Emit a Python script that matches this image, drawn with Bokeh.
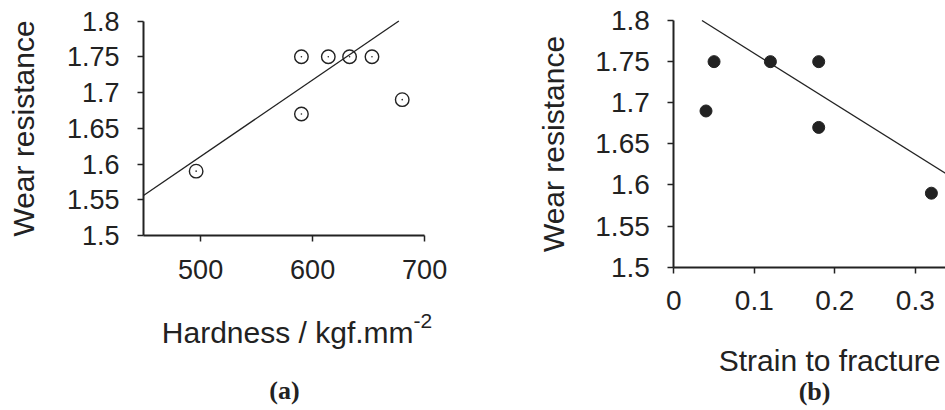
from bokeh.plotting import figure
from bokeh.layouts import row
from bokeh.models import FixedTicker, Label, Range1d
from bokeh.embed import file_html
from bokeh.resources import INLINE

# (a) wear resistance against hardness
hardness = [496, 590, 590, 614, 633, 653, 680]
wear_a = [1.59, 1.75, 1.67, 1.75, 1.75, 1.75, 1.69]
fit_a_x = [449, 677]
fit_a_y = [1.556, 1.80]

# (b) wear resistance against strain to fracture
strain = [0.04, 0.05, 0.12, 0.18, 0.18, 0.32]
wear_b = [1.69, 1.75, 1.75, 1.75, 1.67, 1.59]
fit_b_x = [0.035, 0.338]
fit_b_y = [1.80, 1.614]

wear_ticks = [1.5, 1.55, 1.6, 1.65, 1.7, 1.75, 1.8]
wear_tick_labels = ["1.5", "1.55", "1.6", "1.65", "1.7", "1.75", "1.8"]
hardness_ticks = [500, 600, 700]
hardness_tick_labels = ["500", "600", "700"]
strain_ticks = [0, 0.1, 0.2, 0.3]
strain_tick_labels = ["0", "0.1", "0.2", "0.3"]

INK = "#222222"
SANS = "Liberation Sans"
SERIF = "Liberation Serif"


def panel(width, height, origin_px, origin_val, px_per_unit):
    """Figure whose frame fills the canvas; the axes sit at a fixed data
    location so that text below and beside them stays inside the frame."""
    ox, oy = origin_px          # pixel position of the axes corner
    vx, vy = origin_val         # data value at that corner
    kx, ky = px_per_unit
    x_range = Range1d(vx - ox / kx, vx + (width - ox) / kx)
    y_range = Range1d(vy - (height - oy) / ky, vy + oy / ky)
    p = figure(width=width, height=height, output_backend="svg",
               toolbar_location=None, x_range=x_range, y_range=y_range,
               min_border=0)
    p.grid.visible = False
    p.outline_line_color = None
    p.background_fill_color = "white"
    p.border_fill_color = "white"
    p.xaxis[0].fixed_location = vy
    p.yaxis[0].fixed_location = vx
    return p


def style_axes(p, tick_px):
    for ax in (p.xaxis[0], p.yaxis[0]):
        ax.axis_line_width = 2
        ax.axis_line_color = INK
        ax.major_tick_line_width = 1.5
        ax.major_tick_line_color = INK
        ax.major_tick_in = 0
        ax.major_tick_out = 6
        ax.minor_tick_line_color = None
        ax.major_label_text_font = SANS
        ax.major_label_text_font_size = f"{tick_px}px"
        ax.major_label_text_color = INK
        ax.major_label_standoff = 18
        ax.axis_label_text_font = SANS
        ax.axis_label_text_font_size = "30px"
        ax.axis_label_text_font_style = "normal"
        ax.axis_label_text_color = INK


def set_ticks(ax, ticks, labels):
    ax.ticker = FixedTicker(ticks=ticks)
    ax.major_label_overrides = {t: s for t, s in zip(ticks, labels)}


def caption(p, x, y, text, size="30px", align="right", font=SANS,
            style="normal", baseline="alphabetic"):
    p.add_layout(Label(x=x, y=y, text=text, text_align=align,
                       text_baseline=baseline, text_font=font,
                       text_font_style=style, text_font_size=size,
                       text_color=INK))


# ---------------- panel (a) ----------------
pa = panel(470, 410, (143, 235), (449, 1.5), (1.12, 715.0))
style_axes(pa, 27)
pa.xaxis[0].bounds = (449, 700)
pa.yaxis[0].bounds = (1.5, 1.8)
set_ticks(pa.xaxis[0], hardness_ticks, hardness_tick_labels)
set_ticks(pa.yaxis[0], wear_ticks, wear_tick_labels)
pa.yaxis[0].axis_label = "Wear resistance"
pa.yaxis[0].axis_label_standoff = 24

pa.line(fit_a_x, fit_a_y, line_color=INK, line_width=1.3)
pa.scatter(hardness, wear_a, marker="circle", size=13.5, fill_color=None,
           line_color=INK, line_width=1.4)
pa.scatter(hardness, wear_a, marker="circle", size=1.6, fill_color=INK,
           line_color=None)

caption(pa, 690.1, 1.3648, "Hardness / kgf.mm")
caption(pa, 690.1, 1.3811, "-2", size="21px", align="left")
caption(pa, 574.9, 1.2832, "(a)", size="26px", align="center", font=SERIF,
        style="bold", baseline="middle")

# ---------------- panel (b) ----------------
pb = panel(475, 410, (203.3, 266.7), (0.0, 1.5), (805.0, 822.2))
style_axes(pb, 28)
pb.xaxis[0].bounds = (0, 0.4)
pb.yaxis[0].bounds = (1.5, 1.8)
set_ticks(pb.xaxis[0], strain_ticks, strain_tick_labels)
set_ticks(pb.yaxis[0], wear_ticks, wear_tick_labels)
pb.yaxis[0].axis_label = "Wear resistance"
pb.yaxis[0].axis_label_standoff = 22

pb.line(fit_b_x, fit_b_y, line_color=INK, line_width=1.3)
pb.scatter(strain, wear_b, marker="circle", size=12, fill_color=INK,
           line_color=INK)

caption(pb, 0.3313, 1.3871, "Strain to fracture")
caption(pb, 0.1748, 1.3488, "(b)", size="26px", align="center", font=SERIF,
        style="bold", baseline="middle")

layout = row(pa, pb)
open("out.html", "w").write(file_html(layout, INLINE))
